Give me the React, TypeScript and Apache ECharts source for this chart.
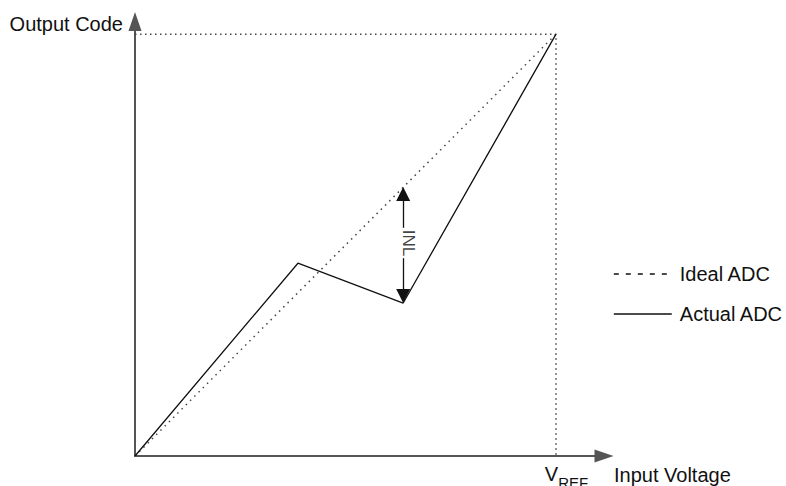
import React, { useEffect, useRef } from "react";
import * as echarts from "echarts";

// Normalised coordinates: x = input voltage (V_REF = 1), y = output code (full scale = 1)
const idealPoints: [number, number][] = [[0, 0], [1, 1]];
const actualPoints: [number, number][] = [[0, 0], [0.387, 0.457], [0.637, 0.3626], [1, 1]];
const guidePoints: [number, number][] = [[0, 1], [1, 1], [1, 0]];
const inlX = 0.637;
const inlTopSegment: [number, number] = [0.621, 0.541];
const inlBottomSegment: [number, number] = [0.469, 0.379];
const inlLabelY = 0.505;
const xTickValues = [1];
const legendNames = ["Ideal ADC", "Actual ADC"];

const FONT = "'Liberation Sans', Arial, Helvetica, sans-serif";

export default function App() {
  const ref = useRef<HTMLDivElement>(null);
  useEffect(() => {
    if (!ref.current) return;
    const chart = echarts.init(ref.current, null, { renderer: "svg" });
    const axisLine = {
      show: true,
      symbol: ["none", "triangle"],
      symbolSize: [13, 19],
      lineStyle: { color: "#555", width: 2 },
    };
    const hiddenSymbol = { opacity: 0, color: "rgba(0,0,0,0)", borderWidth: 0 };
    chart.setOption({
      animation: false,
      backgroundColor: "#fff",
      textStyle: { fontFamily: FONT },
      grid: { left: 135, right: 182, top: 21.5, bottom: 30, containLabel: false, outerBoundsMode: "none" },
      xAxis: {
        type: "value",
        min: 0,
        max: 1.114,
        axisLine,
        axisTick: { show: false },
        splitLine: { show: false },
        name: "Input Voltage",
        nameLocation: "end",
        nameGap: 10,
        nameMoveOverlap: false,
        nameTextStyle: { fontSize: 20, color: "#111", fontFamily: FONT, align: "left", verticalAlign: "top", lineHeight: 37 },
        axisLabel: {
          show: true,
          customValues: xTickValues,
          margin: 1,
          formatter: () => "{v|V}{s|REF}",
          align: "center",
          verticalAlign: "top",
          padding: [0, 0, 0, 21],
          rich: {
            v: { fontSize: 20, color: "#111", fontFamily: FONT },
            s: { fontSize: 15, color: "#111", fontFamily: FONT, padding: [18, 0, 0, 0] },
          },
        },
      },
      yAxis: {
        type: "value",
        min: 0,
        max: 1.03,
        axisLine,
        axisTick: { show: false },
        splitLine: { show: false },
        axisLabel: { show: false },
        name: "Output Code",
        nameLocation: "end",
        nameGap: -2.5,
        nameMoveOverlap: false,
        nameTextStyle: { fontSize: 20, color: "#111", fontFamily: FONT, align: "right", verticalAlign: "middle", padding: [0, 12, 0, 0] },
      },
      legend: {
        orient: "vertical",
        left: 613,
        top: 264,
        padding: 0,
        itemWidth: 58,
        itemHeight: 14,
        itemGap: 20,
        textStyle: { fontSize: 20, color: "#111", fontFamily: FONT, padding: [0, 0, 0, 3] },
        data: [
          { name: legendNames[0], itemStyle: hiddenSymbol, lineStyle: { type: [5, 7], width: 1.6, color: "#111", opacity: 1 } },
          { name: legendNames[1], itemStyle: hiddenSymbol, lineStyle: { type: "solid", width: 1.6, color: "#111", opacity: 1 } },
        ],
      },
      series: [
        {
          name: "guides",
          type: "line",
          data: guidePoints,
          symbol: "none",
          silent: true,
          lineStyle: { color: "#444", width: 1.5, type: [1.5, 3.5] },
        },
        {
          name: legendNames[0],
          type: "line",
          data: idealPoints,
          symbol: "none",
          silent: true,
          itemStyle: { color: "#111" },
          lineStyle: { color: "#444", width: 1.5, type: [1.5, 4.5] },
        },
        {
          name: legendNames[1],
          type: "line",
          data: actualPoints,
          symbol: "none",
          silent: true,
          itemStyle: { color: "#111" },
          lineStyle: { color: "#111", width: 1.3, type: "solid" },
          markLine: {
            silent: true,
            symbol: ["none", "triangle"],
            symbolSize: 14,
            label: { show: false },
            lineStyle: { color: "#111", width: 1.3, type: "solid" },
            data: [
              [{ coord: [inlX, inlTopSegment[1]] }, { coord: [inlX, inlTopSegment[0]] }],
              [{ coord: [inlX, inlBottomSegment[0]] }, { coord: [inlX, inlBottomSegment[1]] }],
            ],
          },
        },
        {
          name: "INL",
          type: "scatter",
          data: [[inlX, inlLabelY]],
          symbolSize: 1,
          itemStyle: { color: "rgba(0,0,0,0)" },
          silent: true,
          label: {
            show: true,
            position: "inside",
            formatter: "INL",
            rotate: -90,
            offset: [0, -5],
            fontSize: 17,
            color: "#111",
            fontFamily: FONT,
          },
        },
      ],
    });
    return () => chart.dispose();
  }, []);
  return (
    <div
      ref={ref}
      style={{ position: "fixed", left: 0, top: 0, width: 786, height: 486, background: "#fff" }}
    />
  );
}
